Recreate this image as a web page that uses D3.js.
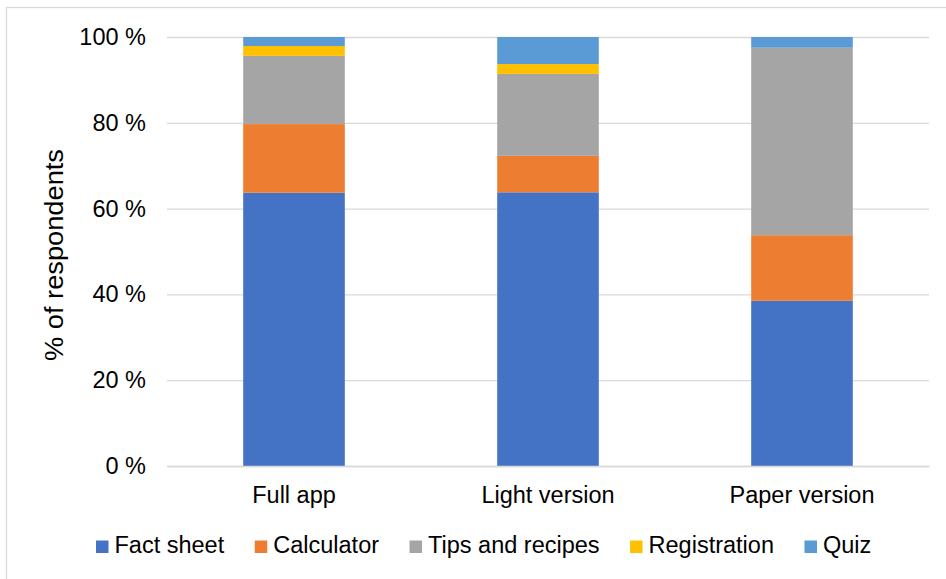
<!DOCTYPE html>
<html>
<head>
<meta charset="utf-8">
<script src="https://cdn.jsdelivr.net/npm/d3@7"></script>
<style>
  html, body { margin: 0; padding: 0; background: #ffffff; }
  svg { display: block; font-family: "Liberation Sans", Arial, sans-serif; }
</style>
</head>
<body>
<svg id="chart" width="946" height="579"></svg>
<script>
// Versions of the material shown to respondents
const categories = ["Full app", "Light version", "Paper version"];
// Feature groups (stack order bottom to top)
const seriesNames = ["Fact sheet", "Calculator", "Tips and recipes", "Registration", "Quiz"];
const seriesColors = ["#4472C4", "#ED7D31", "#A5A5A5", "#FFC000", "#5B9BD5"];
// Share of respondents (%) per version, one array per feature group
const factSheet = [63.7, 63.8, 38.5];
const calculator = [16.0, 8.5, 15.3];
const tipsAndRecipes = [15.9, 19.1, 43.7];
const registration = [2.3, 2.3, 0.0];
const quiz = [2.1, 6.3, 2.5];
const yTicks = [0, 20, 40, 60, 80, 100];
const yLabel = "% of respondents";

const seriesValues = [factSheet, calculator, tipsAndRecipes, registration, quiz];
const rows = categories.map((c, i) => {
  const r = { category: c };
  seriesNames.forEach((s, j) => { r[s] = seriesValues[j][i]; });
  return r;
});

const svg = d3.select("#chart");
const fontSize = 23.5;
const plot = { left: 167, right: 929, top: 37, bottom: 466 };

// Outer frame (only the top and left edges fall inside the canvas)
svg.append("rect")
  .attr("x", 6.5).attr("y", 7.5)
  .attr("width", 960).attr("height", 600)
  .attr("fill", "none").attr("stroke", "#d9d9d9").attr("stroke-width", 1.3);

const x = d3.scaleBand()
  .domain(categories)
  .range([plot.left, plot.right])
  .paddingInner(0.6)
  .paddingOuter(0.3);

const y = d3.scaleLinear().domain([0, 100]).range([plot.bottom, plot.top]);

// Horizontal gridlines with tick labels
const yAxis = d3.axisLeft(y)
  .tickValues(yTicks)
  .tickSize(-(plot.right - plot.left))
  .tickPadding(21)
  .tickFormat(d => d + " %");

const gy = svg.append("g")
  .attr("transform", `translate(${plot.left},0)`)
  .call(yAxis);
gy.select(".domain").remove();
gy.selectAll(".tick line").attr("stroke", "#d9d9d9").attr("stroke-width", 1.3);
gy.selectAll(".tick text")
  .attr("fill", "#000")
  .attr("font-size", fontSize)
  .attr("font-family", "Liberation Sans, Arial, sans-serif")
  .attr("dy", "0.32em");

// Stacked bars
const stack = d3.stack().keys(seriesNames);
const layers = stack(rows);

svg.append("g")
  .selectAll("g")
  .data(layers)
  .join("g")
  .attr("fill", (d, i) => seriesColors[i])
  .selectAll("rect")
  .data(d => d)
  .join("rect")
  .attr("x", d => x(d.data.category))
  .attr("width", x.bandwidth())
  .attr("y", d => y(d[1]))
  .attr("height", d => y(d[0]) - y(d[1]));

// Category axis (baseline only, no ticks)
const xAxis = d3.axisBottom(x).tickSize(0).tickPadding(20);
const gx = svg.append("g")
  .attr("transform", `translate(0,${plot.bottom})`)
  .call(xAxis);
gx.select(".domain").attr("stroke", "#d9d9d9").attr("stroke-width", 1.3);
gx.selectAll(".tick text")
  .attr("fill", "#000")
  .attr("font-size", fontSize)
  .attr("font-family", "Liberation Sans, Arial, sans-serif");

// Y-axis title
svg.append("text")
  .attr("transform", "translate(63,255) rotate(-90)")
  .attr("text-anchor", "middle")
  .attr("font-size", 25)
  .attr("textLength", 212)
  .attr("lengthAdjust", "spacingAndGlyphs")
  .attr("fill", "#000")
  .text(yLabel);

// Legend, laid out left to right from measured label widths
const legend = svg.append("g").attr("transform", "translate(96,553)");
let cursor = 0;
seriesNames.forEach((name, i) => {
  const item = legend.append("g").attr("transform", `translate(${cursor},0)`);
  item.append("rect")
    .attr("x", 0).attr("y", -12.5)
    .attr("width", 12.5).attr("height", 12.5)
    .attr("fill", seriesColors[i]);
  const t = item.append("text")
    .attr("x", 18.5).attr("y", 0)
    .attr("font-size", fontSize)
    .attr("fill", "#000")
    .text(name);
  cursor += 18.5 + t.node().getComputedTextLength() + 30.5;
});
</script>
</body>
</html>
